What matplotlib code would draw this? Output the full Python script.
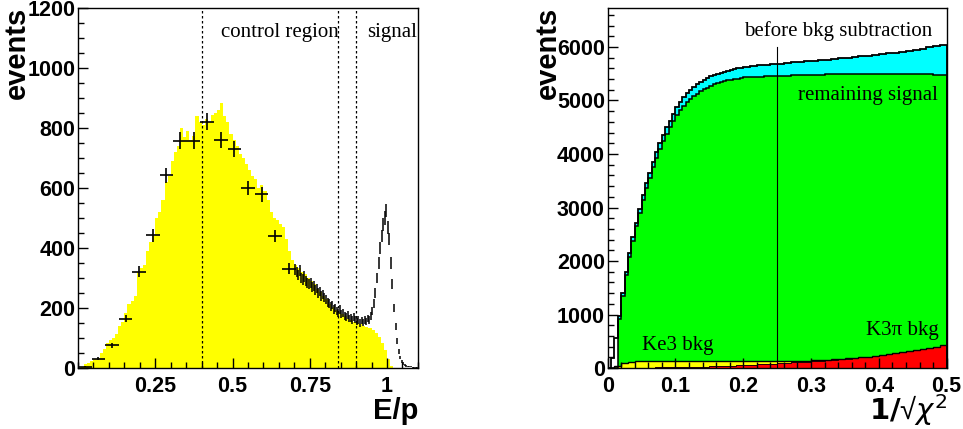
import numpy as np
import matplotlib.pyplot as plt
from matplotlib.ticker import MultipleLocator, FuncFormatter

plt.rcParams['font.family'] = 'Liberation Sans'
plt.rcParams['mathtext.fontset'] = 'dejavusans'

# ---- left panel: E/p ----
# fine yellow histogram, 0.01 bins from 0 to 1.02
ep_mc_edges = np.linspace(0.0, 1.02, 103)
ep_mc = [0, 5, 12, 18, 25, 30, 35, 50, 65, 83,
         95, 100, 115, 140, 155, 185, 215, 225, 240, 320,
         335, 345, 390, 420, 440, 500, 520, 560, 620, 640,
         690, 720, 740, 800, 770, 790, 760, 775, 840, 820,
         810, 830, 820, 845, 850, 860, 885, 840, 820, 780,
         760, 740, 715, 700, 680, 660, 640, 630, 600, 610,
         590, 560, 520, 500, 495, 480, 470, 430, 390, 360,
         345, 335, 320, 315, 300, 290, 280, 265, 255, 240,
         230, 215, 205, 195, 188, 180, 172, 165, 160, 155,
         150, 148, 140, 137, 133, 128, 118, 105, 85, 60,
         30, 8]

# coarse data points (crosses), bin width 0.044
ep_coarse_edges = np.linspace(0.0, 0.704, 17)
ep_coarse = [5, 31, 76, 165, 322, 443, 643, 758, 758, 821, 760, 730, 600, 579, 440, 332]

# fine data points from 0.70 to 1.10, 0.005 bins
ep_fine_edges = np.linspace(0.70, 1.10, 81)
ep_fine = [330, 320, 310, 325, 300, 295, 305, 290, 285, 280,
           285, 270, 275, 260, 265, 250, 255, 240, 245, 235,
           230, 220, 215, 205, 210, 195, 200, 190, 185, 195,
           180, 185, 175, 170, 178, 165, 168, 160, 170, 162,
           155, 160, 150, 158, 152, 160, 155, 165, 160, 175,
           190, 215, 250, 300, 350, 400, 440, 480, 500, 525,
           470, 430, 350, 280, 200, 140, 90, 55, 35, 22,
           15, 10, 8, 6, 5, 4, 3, 3, 2, 2]

cut_lines = [0.4, 0.84, 0.9]

# ---- right panel: 1/sqrt(chi2) ----
chi_edges = np.concatenate([np.linspace(0.0, 0.2, 41), np.linspace(0.21, 0.5, 30)])
chi_total = [0, 180, 570, 980, 1400, 1800, 2150, 2450, 2720, 2980,
             3230, 3450, 3650, 3850, 4030, 4200, 4350, 4500, 4620, 4750,
             4870, 4970, 5060, 5140, 5200, 5260, 5310, 5350, 5390, 5420,
             5450, 5480, 5500, 5520, 5540, 5555, 5570, 5585, 5600, 5610,
             5625, 5640, 5655, 5665, 5680, 5690, 5700, 5710, 5720, 5735,
             5745, 5755, 5765, 5780, 5790, 5800, 5815, 5825, 5840, 5850,
             5865, 5880, 5895, 5910, 5930, 5950, 5970, 5990, 6015, 6045]
chi_signal = [0, 0, 0, 920, 1340, 1730, 2080, 2380, 2650, 2900,
              3140, 3360, 3560, 3750, 3930, 4090, 4240, 4380, 4500, 4620,
              4730, 4820, 4900, 4970, 5030, 5080, 5130, 5170, 5210, 5240,
              5270, 5300, 5320, 5340, 5360, 5375, 5390, 5400, 5410, 5420,
              5430, 5440, 5445, 5450, 5455, 5460, 5465, 5470, 5475, 5478,
              5480, 5483, 5486, 5488, 5490, 5492, 5494, 5495, 5496, 5497,
              5497, 5496, 5495, 5494, 5492, 5490, 5488, 5486, 5484, 5482]

bkg_edges = np.linspace(0.0, 0.5, 51)
k3pi_bkg = [0, 0, 2, 4, 6, 8, 10, 12, 14, 16,
            18, 20, 23, 26, 29, 32, 36, 40, 45, 50,
            56, 62, 68, 75, 82, 90, 98, 106, 114, 122,
            130, 138, 146, 155, 165, 176, 188, 200, 213, 227,
            242, 258, 275, 293, 312, 332, 353, 375, 398, 422]
ke3_bkg = [0, 40, 90, 110, 120, 125, 125, 125, 122, 120,
           118, 115, 112, 108, 104, 100, 96, 92, 88, 84,
           78, 72, 66, 58, 50, 42, 34, 26, 20, 15,
           12, 10, 8, 6, 5, 4, 3, 3, 2, 2,
           2, 2, 2, 1, 1, 1, 1, 1, 1, 1]

serif = 'Liberation Serif'
fmt = FuncFormatter(lambda v, p: '%g' % v)

fig = plt.figure(figsize=(9.63, 4.29), dpi=100)
ax1 = fig.add_axes([0.081, 0.142, 0.353, 0.839])
ax2 = fig.add_axes([0.631, 0.142, 0.352, 0.839])

# left
ax1.stairs(ep_mc, ep_mc_edges, fill=True, color='#ffff00', lw=0)
cx = 0.5 * (ep_coarse_edges[1:] + ep_coarse_edges[:-1])
cw = 0.5 * np.diff(ep_coarse_edges)
ax1.errorbar(cx, ep_coarse, xerr=cw, yerr=np.sqrt(ep_coarse), fmt='none',
             ecolor='black', elinewidth=1.2)
fx = 0.5 * (ep_fine_edges[1:] + ep_fine_edges[:-1])
ax1.errorbar(fx, ep_fine, yerr=np.sqrt(ep_fine), fmt='none',
             ecolor='black', elinewidth=1.1)
for xc in cut_lines:
    ax1.axvline(xc, color='black', lw=0.9, ls=(0, (2, 2)))
ax1.text(0.464, 1120, 'control region', family=serif, fontsize=15, va='center')
ax1.text(0.935, 1120, 'signal', family=serif, fontsize=15, va='center')
ax1.set_xlim(0, 1.1)
ax1.set_ylim(0, 1200)
ax1.xaxis.set_major_locator(MultipleLocator(0.25))
ax1.xaxis.set_minor_locator(MultipleLocator(0.05))
ax1.yaxis.set_major_locator(MultipleLocator(200))
ax1.yaxis.set_minor_locator(MultipleLocator(50))
ax1.set_xticks([0.25, 0.5, 0.75, 1.0])

# right
ax2.stairs(chi_total[3:], chi_edges[3:], fill=True, color='#00ffff', lw=0)
ax2.stairs(chi_signal, chi_edges, fill=True, color='#00ff00', lw=0)
ke3_top = np.array(k3pi_bkg) + np.array(ke3_bkg)
ax2.stairs(ke3_top, bkg_edges, fill=True, color='#ffff00', lw=0)
ax2.stairs(k3pi_bkg, bkg_edges, fill=True, color='#ff0000', lw=0)
ax2.stairs(chi_total, chi_edges, color='black', lw=1.3)
ax2.stairs(chi_signal, chi_edges, color='black', lw=1.1)
ax2.stairs(ke3_top, bkg_edges, color='black', lw=1.0)
ax2.stairs(k3pi_bkg, bkg_edges, color='black', lw=0.6)
ax2.plot([0.25, 0.25], [0, 6000], color='black', lw=0.8)
ax2.text(0.2006, 6300, 'before bkg subtraction', family=serif, fontsize=15, va='center')
ax2.text(0.487, 5100, 'remaining signal', family=serif, fontsize=15, va='center', ha='right')
ax2.text(0.05, 430, 'Ke3 bkg', family=serif, fontsize=15, va='center')
ax2.text(0.488, 710, 'K3\u03c0 bkg', family=serif, fontsize=15, va='center', ha='right')
ax2.set_xlim(0, 0.5)
ax2.set_ylim(0, 6725)
ax2.xaxis.set_major_locator(MultipleLocator(0.1))
ax2.xaxis.set_minor_locator(MultipleLocator(0.02))
ax2.yaxis.set_major_locator(MultipleLocator(1000))
ax2.yaxis.set_minor_locator(MultipleLocator(200))

for ax in (ax1, ax2):
    ax.xaxis.set_major_formatter(fmt)
    ax.yaxis.set_major_formatter(fmt)
    ax.tick_params(which='both', direction='in', top=False, right=False)
    ax.tick_params(which='major', length=7, width=1)
    ax.tick_params(which='minor', length=4, width=1)
    ax.tick_params(axis='x', pad=6)
    ax.tick_params(axis='y', pad=2)
    for lab in ax.get_xticklabels() + ax.get_yticklabels():
        lab.set_fontweight('bold')
        lab.set_fontsize(15.5)
    for sp in ax.spines.values():
        sp.set_linewidth(1)

fig.text(0.018, 0.984, 'events', rotation=90, ha='center', va='top',
         fontsize=21, fontweight='bold')
fig.text(0.569, 0.984, 'events', rotation=90, ha='center', va='top',
         fontsize=21, fontweight='bold')
fig.text(0.434, 0.075, 'E/p', ha='right', va='top', fontsize=21, fontweight='bold')
fig.text(0.984, 0.085, '$\\mathbf{1/}$\u221a$\\chi^{2}$', ha='right', va='top', fontsize=21)

fig.savefig('out.png', dpi=100, facecolor='white')
